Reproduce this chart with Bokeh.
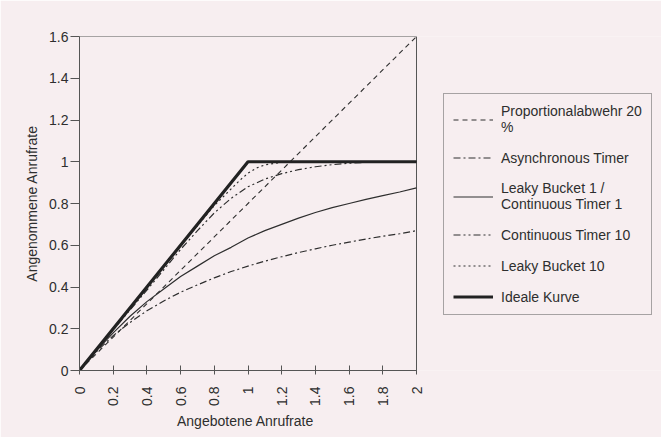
import math
from bokeh.plotting import figure
from bokeh.models import Legend, LegendItem, FixedTicker, CustomJSTickFormatter, Range1d, Title
from bokeh.embed import file_html
from bokeh.resources import INLINE

# ---- data ----
x_prop = [0, 2]
y_prop = [0, 1.6]

x_grid = [0, 0.1, 0.2, 0.3, 0.4, 0.5, 0.6, 0.7, 0.8, 0.9, 1.0,
          1.1, 1.2, 1.3, 1.4, 1.5, 1.6, 1.7, 1.8, 1.9, 2.0]
y_async = [0, 0.09, 0.167, 0.23, 0.286, 0.333, 0.375, 0.41, 0.444, 0.474, 0.5,
           0.524, 0.545, 0.565, 0.583, 0.6, 0.615, 0.63, 0.643, 0.655, 0.67]
y_lb1 = [0, 0.095, 0.18, 0.26, 0.33, 0.39, 0.45, 0.50, 0.55, 0.59, 0.635,
         0.67, 0.70, 0.73, 0.757, 0.78, 0.80, 0.82, 0.838, 0.855, 0.875]

x_ct10 = [0, 0.2, 0.4, 0.6, 0.7, 0.8, 0.9, 1.0, 1.1, 1.2, 1.3, 1.4, 1.5, 1.6, 1.7, 1.8, 2.0]
y_ct10 = [0, 0.195, 0.385, 0.58, 0.67, 0.755, 0.825, 0.88, 0.917, 0.943, 0.962,
          0.976, 0.986, 0.993, 0.997, 1.0, 1.0]

x_lb10 = [0, 0.2, 0.4, 0.6, 0.8, 0.85, 0.9, 0.95, 1.0, 1.05, 1.1, 1.2, 1.4, 2.0]
y_lb10 = [0, 0.2, 0.4, 0.598, 0.79, 0.83, 0.87, 0.91, 0.945, 0.97, 0.985, 0.997, 1.0, 1.0]

x_ideal = [0, 1, 2]
y_ideal = [0, 1, 1]

x_ticks = [0, 0.2, 0.4, 0.6, 0.8, 1.0, 1.2, 1.4, 1.6, 1.8, 2.0]
y_ticks = [0, 0.2, 0.4, 0.6, 0.8, 1.0, 1.2, 1.4, 1.6]

x_title = "Angebotene Anrufrate"
y_title = "Angenommene Anrufrate"
labels = ["Proportionalabwehr 20\n%", "Asynchronous Timer",
          "Leaky Bucket 1 /\nContinuous Timer 1", "Continuous Timer 10",
          "Leaky Bucket 10", "Ideale Kurve"]

BG = "#f7eef0"
INK = "#2e2e2e"
EDGE = "#555555"
FONT = "Liberation Sans"

styles = [
    dict(line_color=INK, line_width=1.1, line_dash="5 4"),
    dict(line_color=INK, line_width=1.2, line_dash="7 3 2 3"),
    dict(line_color=INK, line_width=1.2, line_dash="solid"),
    dict(line_color=INK, line_width=1.2, line_dash="7 3 2 3 2 3"),
    dict(line_color=INK, line_width=1.2, line_dash="2 3"),
    dict(line_color="#222222", line_width=3.2, line_dash="solid"),
]

# layout: plot box spans 79..416 px horizontally, frame continues to the
# right edge so that the legend (placed to the right of the box) is not clipped
W, H = 661, 437
BOX_LEFT, BOX_RIGHT, BOX_TOP, BOX_BOTTOM = 79, 416, 36, 370
x_end = x_ticks[-1] * (W - BOX_LEFT) / (BOX_RIGHT - BOX_LEFT)

p = figure(width=W, height=H, output_backend="svg", toolbar_location=None,
           x_range=Range1d(0, x_end), y_range=Range1d(y_ticks[0], y_ticks[-1]),
           min_border_left=BOX_LEFT, min_border_right=0,
           min_border_top=BOX_TOP, min_border_bottom=H - BOX_BOTTOM)
p.background_fill_color = BG
p.border_fill_color = BG
p.outline_line_color = None
p.xgrid.visible = False
p.ygrid.visible = False

# plot box (outline of the 0..2 x 0..1.6 area)
p.quad(left=x_ticks[0], right=x_ticks[-1], bottom=y_ticks[0], top=y_ticks[-1],
       fill_color=None, line_color=EDGE, line_width=1)

fmt = CustomJSTickFormatter(code="return (Math.round(tick*10)/10).toString();")
p.xaxis.ticker = FixedTicker(ticks=x_ticks)
p.yaxis.ticker = FixedTicker(ticks=y_ticks)
p.xaxis.formatter = fmt
p.yaxis.formatter = fmt
p.xaxis.bounds = (x_ticks[0], x_ticks[-1])
p.xaxis.major_label_orientation = math.pi / 2
for ax in (p.xaxis[0], p.yaxis[0]):
    ax.axis_line_color = EDGE
    ax.major_tick_line_color = EDGE
    ax.minor_tick_line_color = None
    ax.major_label_text_font = FONT
    ax.major_label_text_font_size = "14px"
    ax.major_label_text_color = INK
    ax.axis_label_text_font = FONT
    ax.axis_label_text_font_size = "14px"
    ax.axis_label_text_font_style = "normal"
    ax.axis_label_text_color = INK
p.xaxis.major_tick_in = 5
p.xaxis.major_tick_out = 4
p.yaxis.major_tick_in = 0
p.yaxis.major_tick_out = 9
p.yaxis.axis_label = y_title
p.xaxis.major_label_standoff = 12
p.yaxis.major_label_standoff = 2
p.yaxis.axis_label_standoff = 6

# x-axis title, centred under the plot box (frame is wider than the box)
TITLE_W = 142
xt = Title(text=x_title, align="left",
           offset=(BOX_RIGHT - BOX_LEFT) / 2 - TITLE_W / 2,
           text_font=FONT, text_font_size="14px", text_font_style="normal",
           text_color=INK, standoff=4)
p.add_layout(xt, "below")

series = [(x_prop, y_prop), (x_grid, y_async), (x_grid, y_lb1),
          (x_ct10, y_ct10), (x_lb10, y_lb10), (x_ideal, y_ideal)]
renderers = [p.line(xs, ys, **st) for (xs, ys), st in zip(series, styles)]

items = [LegendItem(label=lab, renderers=[r]) for lab, r in zip(labels, renderers)]
legend = Legend(items=items, location=(443 - BOX_LEFT, BOX_BOTTOM - 315))
legend.border_line_color = EDGE
legend.border_line_width = 1
legend.background_fill_color = BG
legend.background_fill_alpha = 1
legend.label_text_font = FONT
legend.label_text_font_size = "14px"
legend.label_text_color = INK
legend.glyph_width = 40
legend.glyph_height = 17
legend.label_height = 17
legend.label_standoff = 8
legend.padding = 9
legend.spacing = 14
legend.margin = 0
p.add_layout(legend)

html = file_html(p, INLINE)
html = html.replace("<body>", '<body style="background-color:%s;margin:0;overflow:hidden;">' % BG, 1)
open("out.html", "w").write(html)
